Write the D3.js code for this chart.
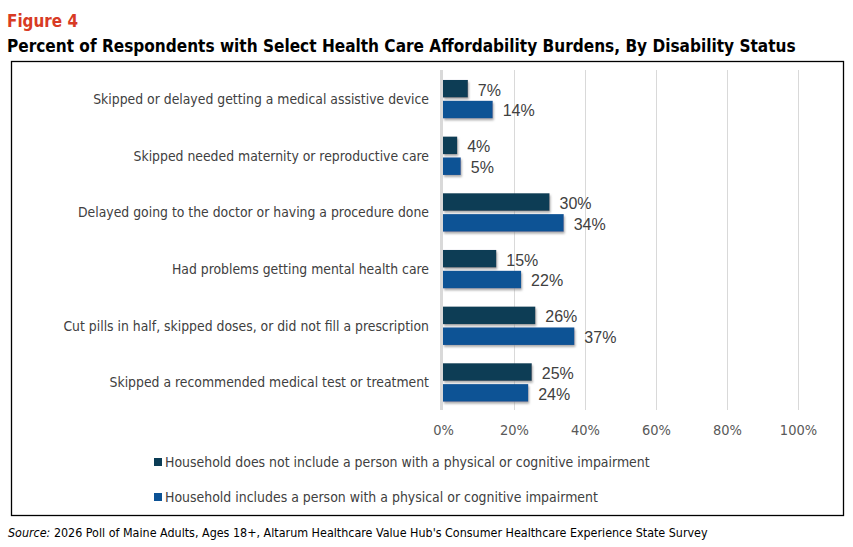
<!DOCTYPE html>
<html><head><meta charset="utf-8">
<script src="https://cdn.jsdelivr.net/npm/d3@7/dist/d3.min.js"></script>
<style>
body{margin:0;background:#fff;}
svg{display:block;}
</style></head>
<body><svg id="c" width="853" height="547"></svg>
<script>
const categories = [
  "Skipped or delayed getting a medical assistive device",
  "Skipped needed maternity or reproductive care",
  "Delayed going to the doctor or having a procedure done",
  "Had problems getting mental health care",
  "Cut pills in half, skipped doses, or did not fill a prescription",
  "Skipped a recommended medical test or treatment"
];
const seriesNames = [
  "Household does not include a person with a physical or cognitive impairment",
  "Household includes a person with a physical or cognitive impairment"
];
const noImpairment = [7, 4, 30, 15, 26, 25];
const withImpairment = [14, 5, 34, 22, 37, 24];
const tickValues = [0, 20, 40, 60, 80, 100];
const colors = ["#0b3c55", "#0c5295"];

const condensed = "'Liberation Sans Narrow','DejaVu Sans Condensed','Roboto','Liberation Sans',sans-serif";
const svg = d3.select("#c");

// fit a text's font size so its width matches a target width
function fit(sel, target) {
  const fs = +sel.attr("font-size");
  const w = sel.node().getComputedTextLength();
  if (w > 0) sel.attr("font-size", (fs * target / w).toFixed(2));
}

const defs = svg.append("defs");
const f = defs.append("filter").attr("id","sh").attr("x","-10%").attr("y","-30%").attr("width","130%").attr("height","180%");
f.append("feDropShadow").attr("dx",1).attr("dy",2).attr("stdDeviation",1).attr("flood-color","#888").attr("flood-opacity",0.7);

// Header
const fig = svg.append("text").attr("x",7).attr("y",27).text("Figure 4")
  .attr("font-family",condensed).attr("font-weight","bold").attr("font-size",19).attr("fill","#d83b24");
fit(fig, 71);
const title = svg.append("text").attr("x",7).attr("y",52).text("Percent of Respondents with Select Health Care Affordability Burdens, By Disability Status")
  .attr("font-family",condensed).attr("font-weight","bold").attr("font-size",18.5).attr("fill","#000");
fit(title, 789);

// Box
svg.append("rect").attr("x",11.5).attr("y",61.5).attr("width",832).attr("height",454)
  .attr("fill","none").attr("stroke","#000").attr("stroke-width",1.3);

const x = d3.scaleLinear().domain([0,100]).range([443,798]);
const y = d3.scaleBand().domain(categories).range([70,410]);
const inner = d3.scaleBand().domain([0,1]).range([0,y.bandwidth()]).paddingInner(0.16).paddingOuter(0.44);

// gridlines
svg.append("g").selectAll("line").data(tickValues.slice(1)).join("line")
  .attr("x1",d=>x(d)+0.5).attr("x2",d=>x(d)+0.5).attr("y1",70).attr("y2",410)
  .attr("stroke","#d9d9d9").attr("stroke-width",1);

// tick labels via axis
const ax = svg.append("g").attr("transform","translate(0,410)")
  .call(d3.axisBottom(x).tickValues(tickValues).tickFormat(d=>d+"%").tickSize(0).tickPadding(15));
ax.select(".domain").remove();
ax.selectAll("text").attr("font-family",condensed).attr("font-size",14.5).attr("fill","#595959");

// bars
const series = [noImpairment, withImpairment];
series.forEach((vals,si)=>{
  const g = svg.append("g");
  g.selectAll("rect").data(vals).join("rect")
    .attr("x",x(0)).attr("y",(d,i)=>y(categories[i])+inner(si)+0.8)
    .attr("width",d=>x(d)-x(0)).attr("height",inner.bandwidth())
    .attr("fill",colors[si]).attr("filter","url(#sh)");
  g.selectAll("text").data(vals).join("text")
    .attr("x",d=>x(d)+10).attr("y",(d,i)=>y(categories[i])+inner(si)+0.8+inner.bandwidth()/2+6.8)
    .text(d=>d+"%")
    .attr("font-family","'Liberation Sans',Arial,sans-serif").attr("font-size",16).attr("fill","#404040");
});

// zero line
svg.append("line").attr("x1",x(0)-1.5).attr("x2",x(0)-1.5).attr("y1",70).attr("y2",410)
  .attr("stroke","#d9d9d9").attr("stroke-width",3);

// category labels
const cl = svg.append("g").selectAll("text").data(categories).join("text")
  .attr("x",429).attr("y",d=>y(d)+y.bandwidth()/2+5.5)
  .attr("text-anchor","end").text(d=>d)
  .attr("font-family",condensed).attr("font-size",14.5).attr("fill","#404040");
// scale all category labels by the factor that makes the first one match
{
  const w0 = cl.nodes()[0].getComputedTextLength();
  cl.attr("font-size", (14.5 * 336 / w0).toFixed(2));
}

// legend
const lg = svg.append("g").selectAll("g").data(seriesNames).join("g")
  .attr("transform",(d,i)=>`translate(154,${458+i*35})`);
lg.append("rect").attr("width",8).attr("height",8).attr("fill",(d,i)=>colors[i]);
const lt = lg.append("text").attr("x",11).attr("y",9).text(d=>d)
  .attr("font-family",condensed).attr("font-size",14.5).attr("fill","#404040");
{
  const w0 = lt.nodes()[0].getComputedTextLength();
  lt.attr("font-size", (14.5 * 485 / w0).toFixed(2));
}

// source
const src = svg.append("text").attr("x",8).attr("y",537)
  .attr("font-family",condensed).attr("font-size",12.5).attr("fill","#000");
src.append("tspan").attr("font-style","italic").text("Source:");
src.append("tspan").text(" 2026 Poll of Maine Adults, Ages 18+, Altarum Healthcare Value Hub's Consumer Healthcare Experience State Survey");
fit(src, 700);
</script></body></html>
